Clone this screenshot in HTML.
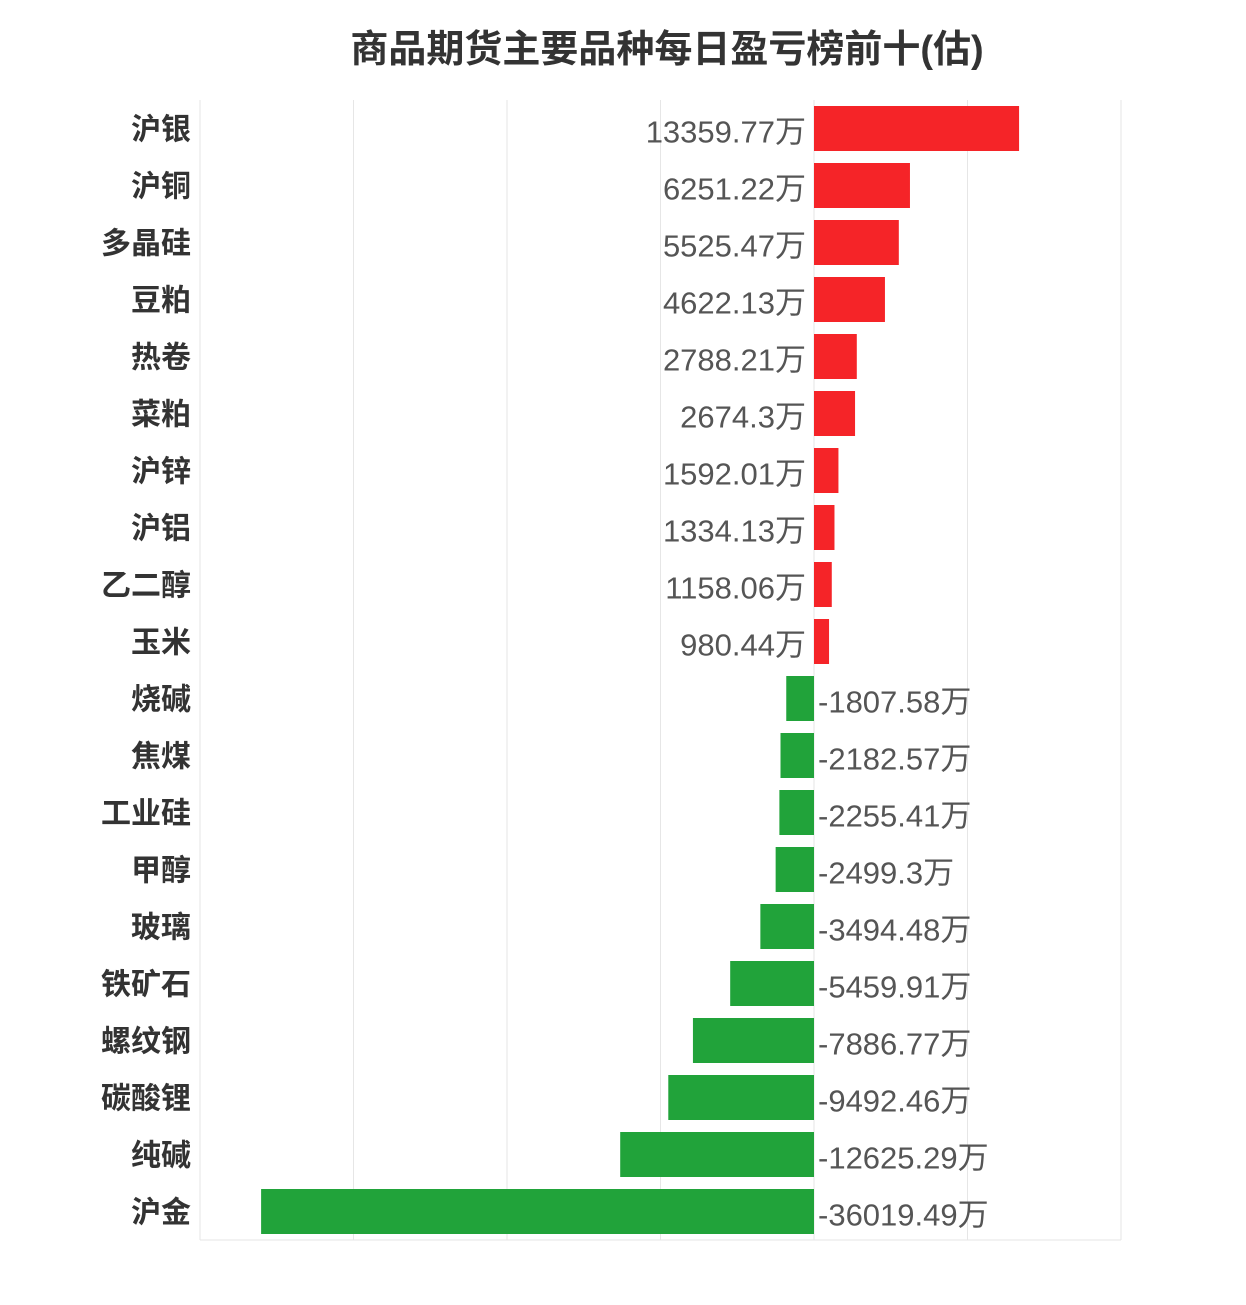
<!DOCTYPE html>
<html><head><meta charset="utf-8"><style>
html,body{margin:0;padding:0;background:#fff;}
svg text{font-family:"Liberation Sans","Noto Sans CJK SC",sans-serif;}
</style></head><body>
<svg id="chart" width="1246" height="1300" xmlns="http://www.w3.org/2000/svg">
<text x="667" y="62" text-anchor="middle" font-size="38" font-weight="bold" fill="#333">商品期货主要品种每日盈亏榜前十(估)</text>
<g id="grid"></g>
<g id="bars"></g>
<g id="labels"></g>
</svg>
<script>
const categories = ["沪银","沪铜","多晶硅","豆粕","热卷","菜粕","沪锌","沪铝","乙二醇","玉米","烧碱","焦煤","工业硅","甲醇","玻璃","铁矿石","螺纹钢","碳酸锂","纯碱","沪金"];
const values = [13359.77,6251.22,5525.47,4622.13,2788.21,2674.3,1592.01,1334.13,1158.06,980.44,-1807.58,-2182.57,-2255.41,-2499.3,-3494.48,-5459.91,-7886.77,-9492.46,-12625.29,-36019.49];
const valueLabels = ["13359.77万","6251.22万","5525.47万","4622.13万","2788.21万","2674.3万","1592.01万","1334.13万","1158.06万","980.44万","-1807.58万","-2182.57万","-2255.41万","-2499.3万","-3494.48万","-5459.91万","-7886.77万","-9492.46万","-12625.29万","-36019.49万"];
const gridTicks = [-40000,-30000,-20000,-10000,0,10000,20000];

const NS="http://www.w3.org/2000/svg";
const X0=200,X1=1121,Y0=100,Y1=1240,DMIN=-40000,DMAX=20000;
const x=v=>X0+(v-DMIN)/(DMAX-DMIN)*(X1-X0);
const band=(Y1-Y0)/categories.length;
const y=i=>Y0+i*band;
function mk(tag,attrs,parent){const e=document.createElementNS(NS,tag);for(const k in attrs)e.setAttribute(k,attrs[k]);parent.appendChild(e);return e;}
const grid=document.getElementById('grid'),bars=document.getElementById('bars'),labels=document.getElementById('labels');
gridTicks.forEach(t=>{
  const l=mk('line',{x1:x(t),x2:x(t),y1:Y0,y2:Y1,stroke:'#e6e6e6','stroke-width':1},grid);
  
  
});
const b=mk('line',{x1:X0,x2:X1,y1:Y1,y2:Y1,stroke:'#e6e6e6','stroke-width':1},grid);


categories.forEach((c,i)=>{
  const v=values[i],cy=y(i)+band/2;
  const r=mk('rect',{x:Math.min(x(0),x(v)),y:cy-22.5,width:Math.abs(x(v)-x(0)),height:45,fill:v>=0?'#f52428':'#21a33a'},bars);
  
  
  const t=mk('text',{x:191,y:cy+11,'text-anchor':'end','font-size':30,'font-weight':'bold',fill:'#333'},labels);
  t.textContent=c;
  
  
  const vl=mk('text',{x:v>=0?x(0)-8:x(0)+4,y:cy+14,'text-anchor':v>=0?'end':'start','font-size':31,fill:'#555'},labels);
  vl.textContent=valueLabels[i];
  
  
});
</script>
</body></html>
